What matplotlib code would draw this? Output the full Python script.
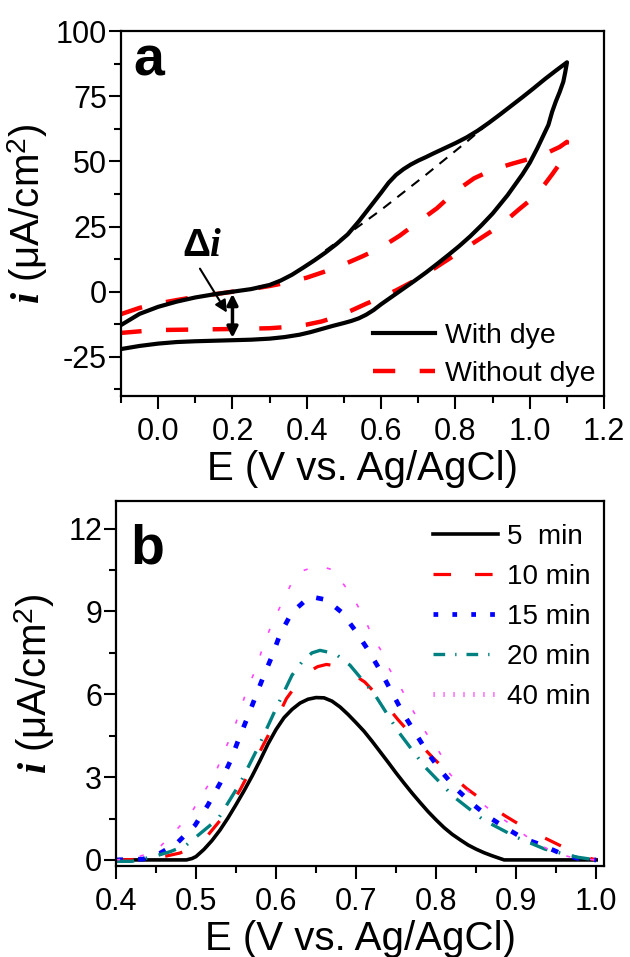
import numpy as np
import matplotlib.pyplot as plt
from matplotlib.ticker import MultipleLocator
from matplotlib.lines import Line2D

plt.rcParams['font.family'] = ['Liberation Sans', 'DejaVu Sans']
plt.rcParams['mathtext.fontset'] = 'custom'
plt.rcParams['mathtext.it'] = 'Liberation Serif:italic:bold'
plt.rcParams['mathtext.rm'] = 'Liberation Sans'
plt.rcParams['axes.unicode_minus'] = False

# (a) cyclic voltammograms, forward and reverse sweeps
E_dye_fwd = [-0.1, -0.05, 0.0, 0.05, 0.1, 0.15, 0.2, 0.25, 0.3, 0.33, 0.36, 0.39, 0.42, 0.45,
             0.48, 0.51, 0.54, 0.57, 0.6, 0.62, 0.64, 0.66, 0.68, 0.7, 0.72, 0.74, 0.77, 0.8,
             0.83, 0.86, 0.89, 0.92, 0.95, 0.98, 1.01, 1.04, 1.07, 1.1]
i_dye_fwd = [-12.8, -8.5, -5.8, -3.8, -2.2, -1.0, 0.0, 1.0, 2.6, 4.3, 6.5, 9.2, 12.0, 15.0,
             18.3, 22.0, 27.0, 32.5, 38.0, 41.8, 44.8, 47.0, 48.8, 50.3, 51.6, 53.0, 55.0, 57.0,
             59.2, 61.8, 64.8, 68.0, 71.3, 74.6, 78.0, 81.5, 84.8, 88.0]
E_dye_rev = [1.1, 1.095, 1.09, 1.08, 1.07, 1.06, 1.05, 1.035, 1.02, 1.0, 0.98, 0.96, 0.94, 0.92,
             0.9, 0.87, 0.84, 0.81, 0.78, 0.75, 0.72, 0.69, 0.66, 0.63, 0.6, 0.58, 0.56, 0.54,
             0.52, 0.5, 0.47, 0.44, 0.41, 0.38, 0.34, 0.3, 0.25, 0.2, 0.15, 0.1, 0.05, 0.0,
             -0.05, -0.1]
i_dye_rev = [88.0, 84.0, 80.5, 76.5, 73.0, 69.0, 64.0, 59.5, 55.0, 49.5, 45.0, 41.0, 37.0, 33.5,
             30.0, 25.5, 21.3, 17.5, 14.0, 10.6, 7.3, 4.2, 1.2, -1.8, -4.8, -7.0, -8.8, -10.2,
             -11.2, -12.0, -13.1, -14.3, -15.5, -16.5, -17.4, -18.0, -18.4, -18.6, -18.8, -19.0,
             -19.3, -19.9, -20.8, -22.0]

E_nodye_fwd = [-0.1, -0.05, 0.0, 0.05, 0.1, 0.15, 0.2, 0.25, 0.3, 0.35, 0.4, 0.45, 0.5, 0.55,
               0.6, 0.65, 0.7, 0.75, 0.8, 0.85, 0.9, 0.95, 1.0, 1.05, 1.08, 1.1]
i_nodye_fwd = [-8.6, -6.2, -4.5, -3.2, -2.0, -1.0, 0.0, 1.0, 2.2, 3.6, 5.4, 7.8, 10.5, 13.6,
               17.0, 21.5, 26.8, 32.0, 38.5, 43.5, 46.8, 49.0, 51.0, 53.5, 55.5, 57.5]
E_nodye_rev = [1.1, 1.095, 1.08, 1.06, 1.04, 1.02, 1.0, 0.97, 0.94, 0.9, 0.86, 0.83, 0.79, 0.75,
               0.72, 0.68, 0.64, 0.6, 0.56, 0.52, 0.48, 0.44, 0.4, 0.35, 0.3, 0.2, 0.1, 0.0,
               -0.05, -0.1]
i_nodye_rev = [57.5, 53.5, 49.0, 45.0, 41.2, 38.0, 35.0, 31.5, 27.8, 23.5, 19.8, 17.0, 13.3, 9.6,
               6.8, 3.5, 0.5, -2.2, -4.6, -7.2, -9.6, -11.4, -12.6, -13.5, -14.0, -14.3, -14.5,
               -14.7, -15.2, -15.8]

# baseline under the dye oxidation wave
E_base = [0.45, 0.6, 0.72, 0.83, 0.88]
i_base = [15.8, 31.4, 44.8, 57.5, 63.5]

# (b) background-subtracted currents for different sensitization times
E_5 = [0.40, 0.45, 0.488, 0.495, 0.50, 0.51, 0.52, 0.53, 0.54, 0.55, 0.56, 0.57, 0.58, 0.59,
       0.60, 0.61, 0.62, 0.63, 0.64, 0.65, 0.66, 0.67, 0.68, 0.69, 0.70, 0.71, 0.72, 0.73, 0.74,
       0.75, 0.76, 0.77, 0.78, 0.79, 0.80, 0.81, 0.82, 0.83, 0.84, 0.85, 0.86, 0.87, 0.88, 0.885,
       0.95, 1.0]
i_5 = [0, 0, 0, 0.05, 0.12, 0.38, 0.7, 1.08, 1.52, 2.0, 2.5, 3.03, 3.6, 4.2, 4.72, 5.15, 5.45,
       5.68, 5.82, 5.88, 5.87, 5.75, 5.54, 5.27, 4.97, 4.66, 4.3, 3.92, 3.54, 3.15, 2.78, 2.42,
       2.08, 1.75, 1.45, 1.17, 0.93, 0.73, 0.54, 0.39, 0.26, 0.15, 0.05, 0, 0, 0]
E_10 = [0.40, 0.43, 0.463, 0.48, 0.50, 0.515, 0.535, 0.555, 0.57, 0.584, 0.60, 0.613, 0.627,
        0.64, 0.652, 0.663, 0.677, 0.69, 0.711, 0.732, 0.753, 0.774, 0.795, 0.816, 0.838, 0.862,
        0.886, 0.91, 0.934, 0.96, 0.984, 1.0]
i_10 = [0, 0.02, 0.14, 0.25, 0.5, 0.9, 1.6, 2.53, 3.35, 4.16, 5.05, 5.84, 6.4, 6.8, 7.0, 7.08,
        7.02, 6.85, 6.44, 5.8, 5.06, 4.38, 3.73, 3.14, 2.59, 2.08, 1.6, 1.18, 0.82, 0.45, 0.12, 0]
E_15 = [0.40, 0.434, 0.455, 0.476, 0.499, 0.515, 0.53, 0.5425, 0.553, 0.563, 0.574, 0.584, 0.595,
        0.605, 0.62, 0.6425, 0.663, 0.682, 0.699, 0.7154, 0.73, 0.7446, 0.759, 0.774, 0.79, 0.807,
        0.826, 0.8446, 0.865, 0.888, 0.909, 0.932, 0.957, 0.98, 1.0]
i_15 = [0, 0.03, 0.24, 0.6, 1.26, 1.99, 2.77, 3.55, 4.34, 5.06, 5.88, 6.62, 7.38, 8.17, 8.97, 9.54,
        9.42, 8.97, 8.31, 7.59, 6.87, 6.08, 5.3, 4.6, 3.86, 3.19, 2.55, 2.05, 1.57, 1.14, 0.78, 0.54,
        0.22, 0.03, 0]
E_20 = [0.40, 0.42, 0.447, 0.468, 0.488, 0.513, 0.528, 0.555, 0.578, 0.599, 0.62, 0.634, 0.645,
        0.655, 0.674, 0.6925, 0.724, 0.753, 0.786, 0.822, 0.859, 0.899, 0.936, 0.976, 1.0]
i_20 = [-0.05, -0.05, 0.12, 0.3, 0.54, 1.14, 1.5, 2.77, 4.1, 5.42, 6.69, 7.23, 7.5, 7.59, 7.47,
        7.05, 5.96, 4.64, 3.37, 2.29, 1.45, 0.84, 0.39, 0.1, 0]
E_40 = [0.40, 0.42, 0.449, 0.4716, 0.4925, 0.509, 0.524, 0.536, 0.547, 0.555, 0.565, 0.576, 0.584,
        0.595, 0.607, 0.62, 0.634, 0.653, 0.674, 0.684, 0.6946, 0.709, 0.7217, 0.73, 0.7425, 0.751,
        0.7654, 0.772, 0.788, 0.797, 0.805, 0.8175, 0.851, 0.87, 0.895, 0.9175, 0.949, 0.974, 1.0]
i_40 = [0, 0.05, 0.3, 0.96, 1.63, 2.41, 3.13, 3.98, 4.7, 5.42, 6.26, 6.99, 7.77, 8.55, 9.28, 10.06,
        10.48, 10.66, 10.48, 10.0, 9.58, 8.85, 8.01, 7.65, 6.87, 6.5, 5.72, 5.36, 4.58, 4.22, 3.86,
        3.1, 2.2, 1.75, 1.25, 0.75, 0.24, 0.06, 0]

labels_b = ['5  min', '10 min', '15 min', '20 min', '40 min']

fig = plt.figure(figsize=(6.3, 9.57), dpi=100)
ax1 = fig.add_axes([0.192, 0.5862, 0.767, 0.3814])
ax2 = fig.add_axes([0.184, 0.0951, 0.775, 0.3814])

tick_fs = 22
label_fs = 29


def style_axes(ax):
    for s in ax.spines.values():
        s.set_linewidth(1.6)
    ax.tick_params(which='both', direction='out', width=1.5, top=False, right=False,
                   labelsize=tick_fs)
    ax.tick_params(which='major', length=9)
    ax.tick_params(which='minor', length=5)
    ax.tick_params(axis='y', pad=1)
    ax.tick_params(axis='x', pad=6)


# ---- panel a ----
E_dye = E_dye_fwd + E_dye_rev[1:]
i_dye = i_dye_fwd + i_dye_rev[1:]
E_nodye = E_nodye_fwd + E_nodye_rev[1:]
i_nodye = i_nodye_fwd + i_nodye_rev[1:]

ax1.plot(E_dye, i_dye, '-', color='black', lw=3.0, label='With dye', zorder=3,
         solid_joinstyle='round')
ax1.plot(E_nodye, i_nodye, color='#ff0000', lw=3.2, dashes=(5, 5.5), label='Without dye',
         zorder=2)
ax1.plot(E_base, i_base, color='black', lw=1.5, dashes=(4.8, 3.8), zorder=2)

ax1.set_xlim(-0.1, 1.2)
ax1.set_ylim(-40, 100)
ax1.xaxis.set_minor_locator(MultipleLocator(0.1))
ax1.yaxis.set_minor_locator(MultipleLocator(12.5))
ax1.set_xticks(np.arange(0.0, 1.21, 0.2))
ax1.set_xticklabels(['0.0', '0.2', '0.4', '0.6', '0.8', '1.0', '1.2'])
ax1.set_yticks([-25, 0, 25, 50, 75, 100])
style_axes(ax1)
ax1.set_xlabel('E (V vs. Ag/AgCl)', fontsize=label_fs, labelpad=2)
ax1.set_ylabel(r'$\mathit{i}$ (μA/cm$^2$)', fontsize=label_fs, labelpad=4)
ax1.text(0.025, 0.879, 'a', transform=ax1.transAxes, fontsize=40, fontweight='bold',
         va='baseline', ha='left')

ax1.annotate('', xy=(0.185, -8.0), xytext=(0.1125, 8.85),
             arrowprops=dict(arrowstyle='-|>', color='black', lw=1.5, mutation_scale=18,
                             shrinkA=0, shrinkB=0))
ax1.annotate('', xy=(0.2, -17.7), xytext=(0.2, -0.8),
             arrowprops=dict(arrowstyle='<|-|>', color='black', lw=2.5, mutation_scale=16,
                             shrinkA=0, shrinkB=0))
ax1.text(0.12, 17.5, r'Δ$\mathit{i}$', fontsize=28, fontweight='bold', ha='center', va='center')

ax1.legend(loc='lower right', frameon=False, fontsize=20.5, handlelength=2.2,
           handletextpad=0.35, labelspacing=0.45, borderaxespad=0.0, borderpad=0.3)

# ---- panel b ----
ax2.plot(E_5, i_5, '-', color='black', lw=2.6, solid_joinstyle='round')
ax2.plot(E_10, i_10, color='#ff0000', lw=2.3, dashes=(5.5, 10))
ax2.plot(E_15, i_15, color='#0000ff', lw=3.4, dashes=(1.5, 3.2))
ax2.plot(E_20, i_20, color='#008080', lw=2.4, dashes=(5.5, 3.5, 0.5, 3.5))
ax2.plot(E_40, i_40, color='#ff44ff', lw=1.2, dashes=(2.5, 12))

ax2.set_xlim(0.4, 1.01)
ax2.set_ylim(-0.22, 13)
ax2.xaxis.set_minor_locator(MultipleLocator(0.05))
ax2.yaxis.set_major_locator(MultipleLocator(3))
ax2.yaxis.set_minor_locator(MultipleLocator(1.5))
ax2.set_xticks([0.4, 0.5, 0.6, 0.7, 0.8, 0.9, 1.0])
ax2.set_xticklabels(['0.4', '0.5', '0.6', '0.7', '0.8', '0.9', '1.0'])
style_axes(ax2)
ax2.set_xlabel('E (V vs. Ag/AgCl)', fontsize=label_fs, labelpad=2)
ax2.set_ylabel(r'$\mathit{i}$ (μA/cm$^2$)', fontsize=label_fs, labelpad=8)
ax2.text(0.029, 0.83, 'b', transform=ax2.transAxes, fontsize=40, fontweight='bold',
         va='baseline', ha='left')

handles_b = [
    Line2D([], [], color='black', lw=2.6),
    Line2D([], [], color='#ff0000', lw=2.3, dashes=(5.5, 7.5)),
    Line2D([], [], color='#0000ff', lw=3.4, dashes=(1, 3)),
    Line2D([], [], color='#008080', lw=2.4, dashes=(3.5, 3, 0.4, 3)),
    Line2D([], [], color='#ff44ff', lw=3.5, dashes=(0.25, 1.8)),
]
ax2.legend(handles_b, labels_b, loc='upper right', bbox_to_anchor=(1.0, 0.975), frameon=False,
           fontsize=20, handlelength=2.35, handletextpad=0.3, labelspacing=0.5,
           borderaxespad=0.1)

fig.savefig('out.png', dpi=100)
